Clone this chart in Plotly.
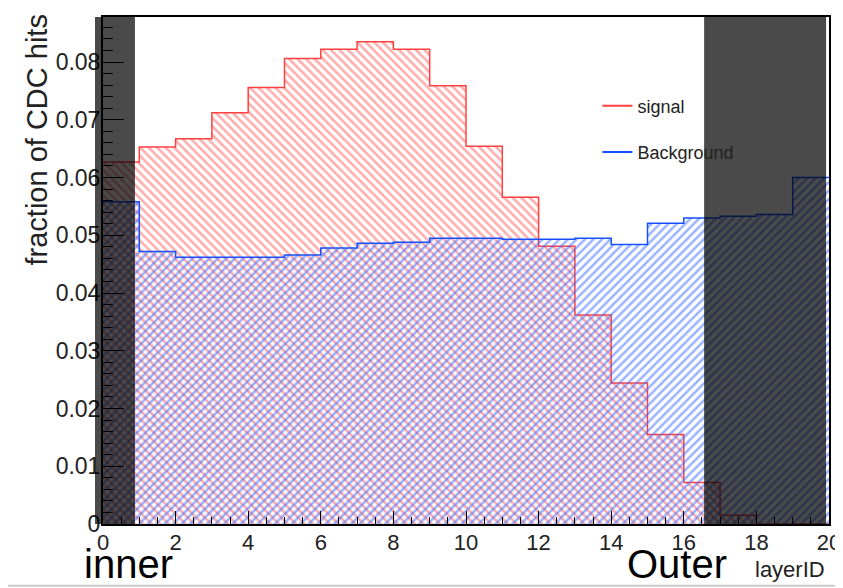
import plotly.graph_objects as go

# ---- data ----
bin_edges = list(range(0, 21))
signal = [0.0627, 0.0653, 0.0667, 0.0712, 0.0756, 0.0806, 0.0822, 0.0835, 0.0822, 0.0759,
          0.0654, 0.0566, 0.0481, 0.0362, 0.0244, 0.0155, 0.0072, 0.0015, 0.0, 0.0]
background = [0.0558, 0.0472, 0.0462, 0.0462, 0.0462, 0.0466, 0.0478, 0.0486, 0.0488, 0.0495,
              0.0495, 0.0493, 0.0493, 0.0495, 0.0484, 0.0521, 0.0530, 0.0533, 0.0536, 0.0600]
excluded_regions = [(-0.22, 0.88), (16.56, 19.92)]
x_range = [0, 20]
y_range = [0, 0.0878]
x_ticks = [0, 2, 4, 6, 8, 10, 12, 14, 16, 18, 20]
y_ticks = [0, 0.01, 0.02, 0.03, 0.04, 0.05, 0.06, 0.07, 0.08]
y_tick_labels = ["0", "0.01", "0.02", "0.03", "0.04", "0.05", "0.06", "0.07", "0.08"]

FONT = "Liberation Sans, Arial, sans-serif"
RED_LINE = "#ff4040"
RED_HATCH = "#ff5a5a"
BLUE_LINE = "#1450ff"
BLUE_HATCH = "#3a6aff"


def step_xy(values):
    return bin_edges, list(values) + [values[-1]]


fig = go.Figure()

sx, sy = step_xy(signal)
fig.add_trace(go.Scatter(
    x=sx, y=sy, mode="lines", line=dict(shape="hv", color=RED_LINE, width=1.5),
    fill="tozeroy", fillcolor="rgba(0,0,0,0)",
    fillpattern=dict(shape="\\", fgcolor=RED_HATCH, bgcolor="rgba(0,0,0,0)", size=6, solidity=0.42),
    showlegend=False, hoverinfo="skip"))

bx, by = step_xy(background)
fig.add_trace(go.Scatter(
    x=bx, y=by, mode="lines", line=dict(shape="hv", color=BLUE_LINE, width=1.5),
    fill="tozeroy", fillcolor="rgba(0,0,0,0)",
    fillpattern=dict(shape="/", fgcolor=BLUE_HATCH, bgcolor="rgba(0,0,0,0)", size=6, solidity=0.42),
    showlegend=False, hoverinfo="skip"))

# legend entries
fig.add_trace(go.Scatter(x=[None], y=[None], mode="lines", name="signal",
                         line=dict(color=RED_LINE, width=2), legendgroup="s"))
fig.add_trace(go.Scatter(x=[None], y=[None], mode="lines", name="Background",
                         line=dict(color=BLUE_LINE, width=2), legendgroup="b"))


def to_paper(v):
    return (v - x_range[0]) / (x_range[1] - x_range[0])


for x0, x1 in excluded_regions:
    fig.add_shape(type="rect", xref="paper", yref="paper",
                  x0=to_paper(x0), x1=to_paper(x1), y0=0, y1=1,
                  fillcolor="black", opacity=0.71, line=dict(width=0), layer="above")

# screenshot border line at the bottom
fig.add_shape(type="line", xref="paper", yref="paper", x0=-0.14, x1=1.02, y0=-0.122, y1=-0.122,
              line=dict(color="#cccccc", width=2))

# y-axis title (ROOT style: aligned to the top end of the axis)
fig.add_annotation(text="fraction of CDC hits", xref="paper", yref="paper", x=-0.0905, y=0.757,
                   xanchor="center", yanchor="middle", textangle=-90, showarrow=False,
                   font=dict(family=FONT, size=29, color="#222222"))

fig.add_annotation(text="inner", xref="paper", yref="paper", x=to_paper(0.7), y=-0.126,
                   xanchor="center", yanchor="bottom", showarrow=False,
                   font=dict(family=FONT, size=40, color="black"))
fig.add_annotation(text="Outer", xref="paper", yref="paper", x=to_paper(15.8), y=-0.126,
                   xanchor="center", yanchor="bottom", showarrow=False,
                   font=dict(family=FONT, size=40, color="black"))
fig.add_annotation(text="layerID", xref="paper", yref="paper", x=0.997, y=-0.061,
                   xanchor="right", yanchor="top", showarrow=False,
                   font=dict(family=FONT, size=22, color="#222222"))

fig.update_layout(
    width=835, height=580,
    margin=dict(l=95, r=14, t=9, b=64),
    paper_bgcolor="white", plot_bgcolor="white",
    font=dict(family=FONT, color="#222222"),
    legend=dict(x=0.681, y=0.861, xanchor="left", yanchor="top",
                bgcolor="rgba(0,0,0,0)", font=dict(family=FONT, size=18, color="#222222"),
                tracegroupgap=20, traceorder="grouped", itemwidth=30),
    showlegend=True,
)

fig.update_xaxes(range=x_range, tickvals=x_ticks, ticks="inside", ticklen=13, tickwidth=1,
                 tickcolor="black", showline=True, linecolor="black", linewidth=2, mirror=True,
                 showgrid=False, zeroline=False, automargin=False, ticklabelstandoff=-2,
                 tickfont=dict(family=FONT, size=22, color="#222222"),
                 minor=dict(dtick=0.5, ticks="inside", ticklen=7, tickcolor="black"))
fig.update_yaxes(range=y_range, tickvals=y_ticks, ticktext=y_tick_labels, ticks="inside",
                 ticklen=21, tickwidth=1, tickcolor="black", showline=True, linecolor="black",
                 linewidth=2, mirror=True, showgrid=False, zeroline=False, automargin=False,
                 ticklabelstandoff=-4,
                 tickfont=dict(family=FONT, size=23, color="#222222"),
                 minor=dict(dtick=0.002, ticks="inside", ticklen=10, tickcolor="black"))

fig.write_html("out.html")
